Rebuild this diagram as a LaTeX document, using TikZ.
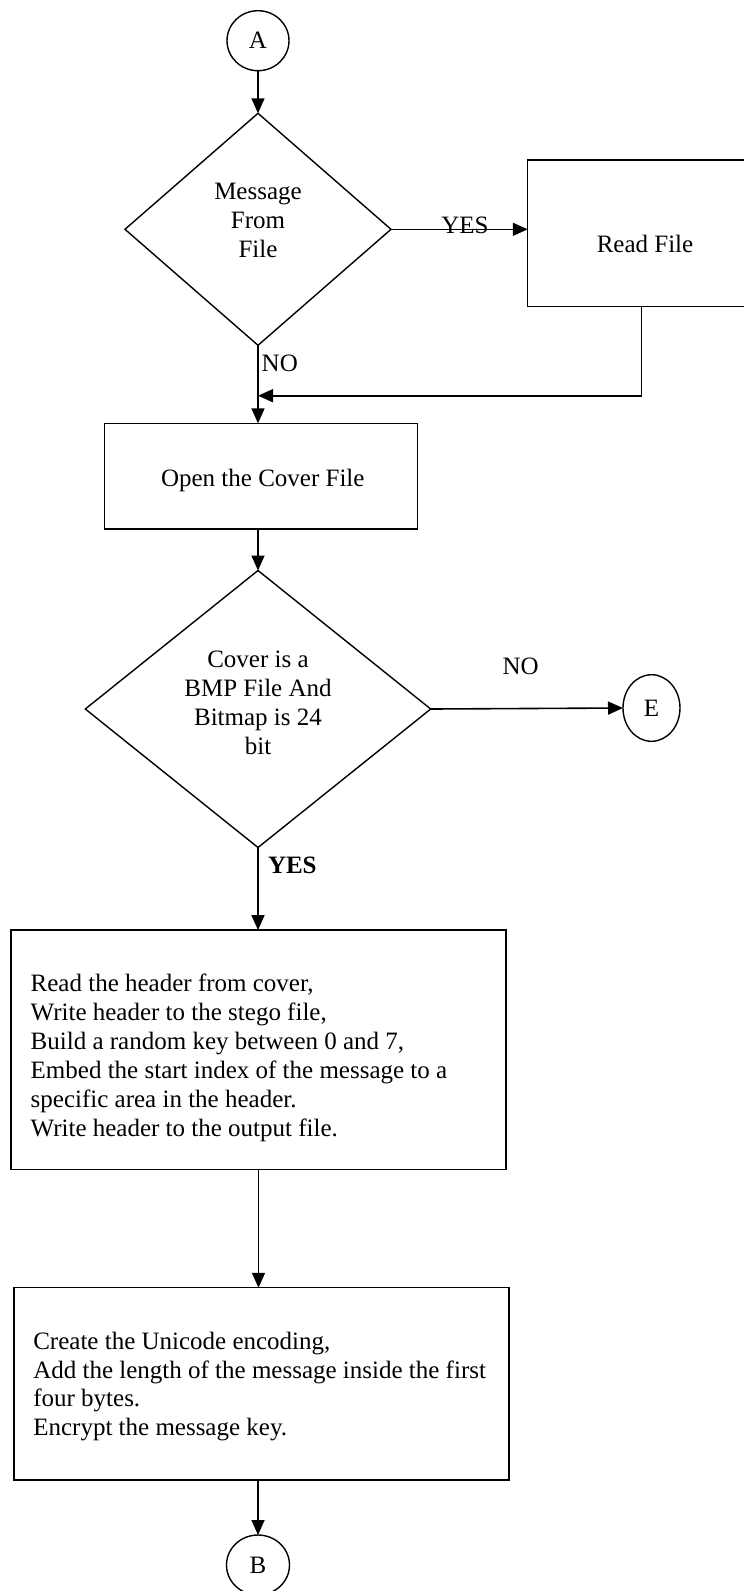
\documentclass[tikz,border=0pt]{standalone}
\usepackage{fontspec}
\setmainfont{Liberation Serif}
\usetikzlibrary{arrows.meta,shapes.geometric}

\begin{document}
\begin{tikzpicture}[x=1pt,y=-1pt,
  lbl/.style={inner sep=0pt, outer sep=0pt, font=\fontsize{25}{28.9}\selectfont},
  proc/.style={draw, rectangle, line width=1.4pt, inner sep=0pt, outer sep=0pt},
  decide/.style={draw, diamond, line width=1.4pt, inner sep=0pt, outer sep=0pt},
  conn/.style={draw, ellipse, line width=1.4pt, inner sep=0pt, outer sep=0pt,
    minimum width=62pt, minimum height=60pt, font=\fontsize{25}{28.9}\selectfont},
  flow/.style={line width=1.6pt, -{Triangle[length=15pt,width=13pt]}}
]
\useasboundingbox (0,0) rectangle (744,1591);
\clip (0,0) rectangle (744,1591);

% connectors and process shapes (multi-line texts are anchored at their last baseline)
\node[conn] (A) at (258,40.7) {A};
\node[decide, minimum width=266pt, minimum height=232pt] (d1) at (258,229.3) {};
\node[lbl, align=center, anchor=base] (d1t) at (258,257.3) {Message\\From\\File};

\node[proc, minimum width=235.3pt, minimum height=146.7pt] (rf) at (645.4,233.4) {};
\node[lbl, anchor=base] (rft) at (645,252) {Read File};

\coordinate (j1) at (258,395.7);

\node[proc, minimum width=313pt, minimum height=105.7pt] (open) at (260.8,476.2) {};
\node[lbl, anchor=base] (opent) at (262.8,486) {Open the Cover File};

\node[decide, minimum width=345.4pt, minimum height=277pt] (d2) at (258,709) {};
\node[lbl, align=center, anchor=base] (d2t) at (258,754)
  {Cover is a\\BMP File And\\Bitmap is 24\\bit};

\node[conn, minimum width=57pt, minimum height=66.6pt] (E) at (651.5,708) {E};

\node[proc, minimum width=495pt, minimum height=239.3pt] (b1) at (258.5,1049.7) {};
\node[lbl, align=left, anchor=base west] (b1t) at (30.7,1136.3)
  {Read the header from cover,\\
   Write header to the stego file,\\
   Build a random key between 0 and 7,\\
   Embed the start index of the message to a\\
   specific area in the header.\\
   Write header to the output file.};

\node[proc, minimum width=495pt, minimum height=192.3pt] (b2) at (261.5,1383.9) {};
\node[lbl, align=left, anchor=base west] (b2t) at (33.3,1435.8)
  {Create the Unicode encoding,\\
   Add the length of the message inside the first\\
   four bytes.\\
   Encrypt the message key.};

\node[conn, minimum width=63pt] (B) at (258,1565) {B};

% flow lines and their labels
\draw[flow] (A) -- (d1);
\draw[flow] (d1.east) -- (d1.east -| rf.west);
\node[lbl, anchor=base] (yes1) at (465,233) {YES};
\draw[flow] (d1.south) -- (d1.south |- open.north);
\node[lbl, anchor=base west] (no1) at (261.7,371.7) {NO};
\draw[flow] ([xshift=-4pt]rf.south) |- (j1);
\draw[flow] (d2.north |- open.south) -- (d2.north);
\draw[flow] (d2.east) -- (E.west);
\node[lbl, anchor=base] (no2) at (520.7,674) {NO};
\draw[flow] (d2.south) -- (d2.south |- b1.north);
\node[lbl, anchor=base west, font=\fontsize{25}{28.9}\selectfont\bfseries] (yes2) at (268,873.3) {YES};
\draw[flow] (b1.south) -- (b1.south |- b2.north);
\draw[flow] (B.north |- b2.south) -- (B.north);
\end{tikzpicture}
\end{document}
